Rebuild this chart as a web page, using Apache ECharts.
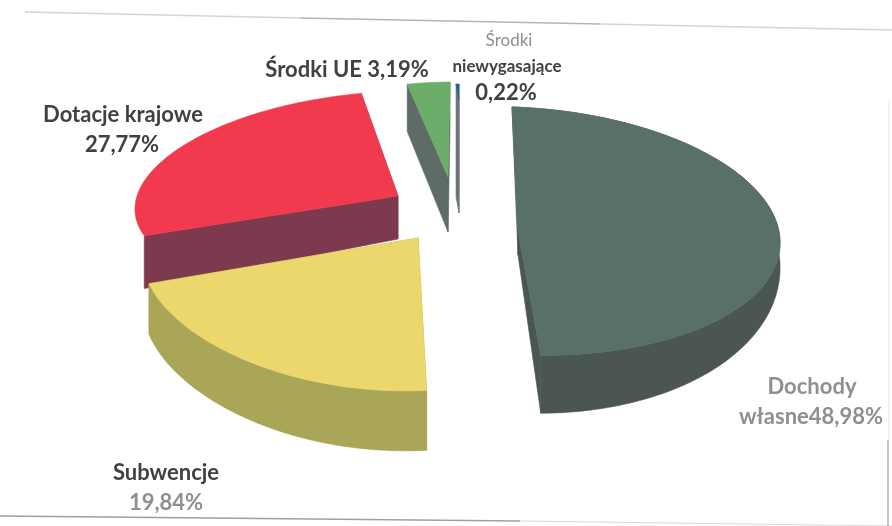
<!DOCTYPE html>
<html><head><meta charset="utf-8">
<style>html,body{margin:0;padding:0;background:#fff}#c{width:892px;height:526px}</style>
<script src="https://cdn.jsdelivr.net/npm/echarts@6/dist/echarts.min.js"></script>
</head><body><div id="c"></div>
<script>
const categories = ['Dochody własne','Subwencje','Dotacje krajowe','Środki UE','Środki niewygasające'];
const values = [48.98,19.84,27.77,3.19,0.22];
const topColors = ['#587067','#ecd76c','#f23a4e','#6cad6a','#1f5f96'];
const sideColors = ['#4c5650','#a9a657','#7d3a4e','#5f6c66','#6d7478'];
// per-slice projection of the exploded 3D pie
const sliceGeometry = [
  {cx:518,cy:231,rx:262,ry:124,sh:-6,tilt:9,k:0,kx:0,d0:24,dk:34,arcWall:true,z:1},
  {cx:418,cy:238,rx:270,ry:107,sh:10,tilt:0,k:.3,kx:.15,d0:45,dk:15,arcWall:true,z:3},
  {cx:398,cy:196,rx:261,ry:105,sh:17,tilt:0,k:0,kx:.06,d0:43,dk:26,arcWall:false,z:2},
  {cx:448,cy:177,rx:215,ry:95,sh:5,tilt:0,k:0,kx:0,d0:55,dk:8,arcWall:false,z:4},
  {cx:459,cy:100,rx:215,ry:16,sh:0,tilt:0,k:0,kx:0,d0:113,dk:0,arcWall:false,z:5}
];
const labelLines = [
  ['Dochody',812,387,'#8c9090',22,700],
  ['własne48,98%',811,417,'#8c9090',22,700],
  ['Dotacje krajowe',123,115,'#3f4144',22,700],
  ['27,77%',122,145,'#3f4144',22,700],
  ['Środki UE 3,19%',347,70,'#3f4144',22,700],
  ['Środki',509,41,'#8c9090',17,400],
  ['niewygasające',507,67,'#3f4144',17,700],
  ['0,22%',506,93,'#3f4144',22,700],
  ['Subwencje',166,473,'#3f4144',22,700],
  ['19,84%',166,503,'#8c9090',22,700]
];
const FONT = 'Lato, "Open Sans", sans-serif';
const total = values.reduce((a,b)=>a+b,0);
const ARC_STEP = 1.5;

function project(g,deg,r){
  const t = deg*Math.PI/180, u = r*Math.sin(t), v = r*Math.cos(t);
  return {x:g.cx+(g.rx*u+g.sh*v)/(1+g.kx*v), y:g.cy-g.ry*v/(1+g.k*v)+g.tilt*u, v};
}
function pt(p){return [p.x,p.y];}
function down(g,p){return [p.x,p.y+Math.max(0,g.d0-g.dk*p.v)];}
function renderItem(params,api){
  const i = params.dataIndex;
  let a0 = 0; for(let j=0;j<i;j++) a0 += values[j]/total*360;
  const a1 = a0 + api.value(0)/total*360;
  const g = sliceGeometry[i];
  const poly = (points,fill)=>({type:'polygon',z2:g.z,shape:{points},style:{fill,stroke:fill,lineWidth:.6},silent:true});
  const rim = [];
  const n = Math.max(2,Math.ceil((a1-a0)/ARC_STEP));
  for(let s=0;s<=n;s++) rim.push(project(g,a0+(a1-a0)*s/n,1));
  const apex = project(g,0,0);
  const top = [pt(apex)].concat(rim.map(pt));
  const wall = rim.map(pt).concat(rim.slice().reverse().map(p=>down(g,p)));
  const first = rim[0], last = rim[rim.length-1];
  const kids = [
    poly([pt(apex),pt(first),down(g,first),down(g,apex)],sideColors[i]),
    poly([pt(apex),pt(last),down(g,last),down(g,apex)],sideColors[i])
  ];
  if(g.arcWall) kids.push(poly(wall,sideColors[i]));
  kids.push(poly(top,topColors[i]));
  return {type:'group',children:kids};
}
const textEls = labelLines.map(t=>({
  type:'text',x:t[1],y:t[2],silent:true,
  style:{text:t[0],fill:t[3],font:`${t[5]} ${t[4]}px ${FONT}`,textAlign:'center',textVerticalAlign:'middle'}
}));
const scanLines = [
  [25,12,300,18,'#d4d4d4',1.3],[300,18,600,24,'#b4b4b4',1.3],[600,24,892,30,'#d4d4d4',1.3],
  [0,516,520,521,'#a0a0a0',1.6],[520,521,892,526,'#d8d8d8',1],
  [888,440,888,526,'#8a8a8a',1],[889,100,889,440,'#e6e6e6',1]
].map(s=>({type:'line',silent:true,shape:{x1:s[0],y1:s[1],x2:s[2],y2:s[3]},style:{stroke:s[4],lineWidth:s[5]}}));
const chart = echarts.init(document.getElementById('c'),null,{renderer:'canvas'});
chart.setOption({
  animation:false,
  backgroundColor:'#fff',
  graphic:{elements:scanLines.concat(textEls)},
  series:[{type:'custom',coordinateSystem:'none',renderItem,
    data:values.map((v,i)=>({name:categories[i],value:[v]})),z:1}]
});
</script></body></html>
